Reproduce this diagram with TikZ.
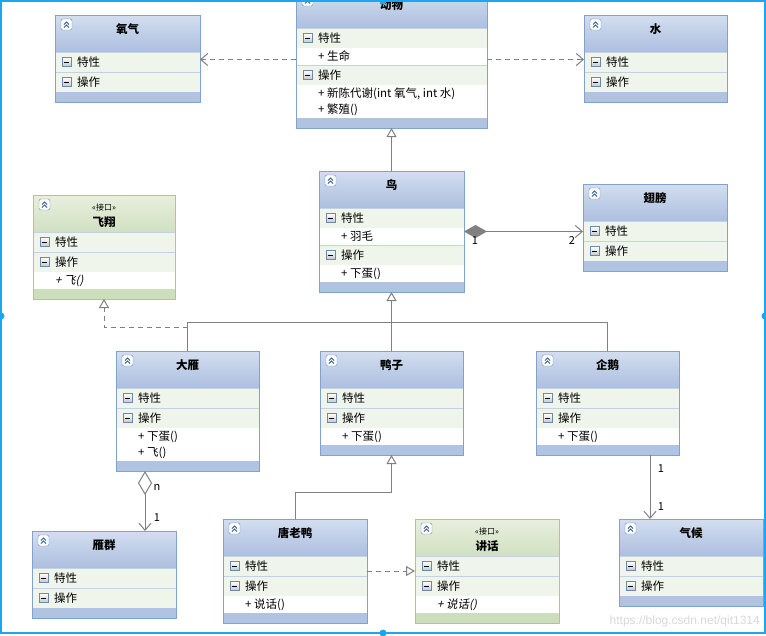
\documentclass[tikz,border=0pt]{standalone}
\usepackage{fontspec}
\setmainfont{Noto Sans CJK SC}[ItalicFont={Noto Sans CJK SC},ItalicFeatures={FakeSlant=0.2}]
\newfontfamily\wmfont{Liberation Sans}
\usetikzlibrary{arrows.meta}
\usetikzlibrary{calc}

\definecolor{headtop}{HTML}{D3DEF0}
\definecolor{headbot}{HTML}{ACBFDF}
\definecolor{compbg}{HTML}{F0F5EC}
\definecolor{bandbg}{HTML}{B0C3E0}
\definecolor{edge}{HTML}{7FA2CE}
\definecolor{sepline}{HTML}{C4D2E8}
\definecolor{ifacetop}{HTML}{E8EFDE}
\definecolor{ifacebot}{HTML}{D0E0C0}
\definecolor{ifaceedge}{HTML}{BDBCA0}
\definecolor{ifaceband}{HTML}{CCDFBD}
\definecolor{iconedge}{HTML}{6A88B2}
\definecolor{iconblue}{HTML}{2F5C9A}
\definecolor{linegray}{HTML}{808080}
\definecolor{framecol}{HTML}{1AA6F0}

\tikzset{
  ttl/.style={font=\fontsize{11.5}{12}\selectfont\bfseries, inner sep=0pt},
  hdr/.style={font=\fontsize{11.5}{12}\selectfont, anchor=west, inner sep=0pt},
  mem/.style={font=\fontsize{11.5}{12}\selectfont\memfont, anchor=west, inner sep=0pt},
  stereo/.style={font=\fontsize{8}{9}\selectfont, inner sep=0pt},
  mult/.style={font=\fontsize{11}{12}\selectfont, inner sep=0pt},
  conn/.style={draw=linegray, line width=1pt},
  dep/.style={conn, dash pattern=on 5pt off 4pt, -{Straight Barb[length=7pt,width=12pt]}},
  gen/.style={conn, -{Triangle[open,length=9pt,width=10pt,fill=white]}},
  real/.style={conn, dash pattern=on 5pt off 4pt, -{Triangle[open,length=9pt,width=10pt,fill=white]}},
  compo/.style={conn, {Diamond[length=23pt,width=13pt]}-{Straight Barb[length=7pt,width=12pt]}},
  aggr/.style={conn, {Diamond[open,length=24pt,width=14pt,fill=white]}-{Straight Barb[length=7pt,width=12pt]}},
  assoc/.style={conn, -{Straight Barb[length=7pt,width=12pt]}},
  frame/.style={draw=framecol, line width=2pt}
}

\let\memfont\relax
\def\titleoff{14}
\def\stereotxt{}

\newcommand{\chevicon}[2]{%
  \draw[draw=iconedge, fill=white, rounded corners=1.5pt] (#1,#2) rectangle ++(11,11);
  \draw[draw=iconblue, line width=0.8pt] (#1+3,#2+5.5) -- (#1+5.5,#2+3) -- (#1+8,#2+5.5)
    (#1+3,#2+8.5) -- (#1+5.5,#2+6) -- (#1+8,#2+8.5);
}
\newcommand{\minusicon}[2]{%
  \shadedraw[top color=white, bottom color=gray!45, draw=iconedge] (#1,#2) rectangle ++(9,9);
  \draw[line width=1pt] (#1+2,#2+4.5) -- (#1+7,#2+4.5);
}

% #1 width, #2 name, #3 left, #4 top, #5 title, #6/#7 attributes, #8/#9 operations
\newcommand{\umlclass}[9][143]{%
  \pgfmathsetmacro\xl{#3}
  \pgfmathsetmacro\xr{#3+#1}
  \pgfmathsetmacro\ya{#4+37}
  \pgfmathsetmacro\yb{\ya+20}
  \pgfmathsetmacro\yc{\yb+(#6>0)*(16*#6+1)}
  \pgfmathsetmacro\yd{\yc+20}
  \pgfmathsetmacro\ye{\yd+(#8>0)*(16*#8+1)}
  \pgfmathsetmacro\yf{\ye+10}
  \pgfmathsetmacro\hh{\yf-#4}
  \shade[top color=headtop, bottom color=headbot] (\xl,#4) rectangle (\xr,\ya);
  \fill[compbg] (\xl,\ya) rectangle (\xr,\yb);
  \fill[white] (\xl,\yb) rectangle (\xr,\yc);
  \fill[compbg] (\xl,\yc) rectangle (\xr,\yd);
  \fill[white] (\xl,\yd) rectangle (\xr,\ye);
  \fill[bandbg] (\xl,\ye) rectangle (\xr,\yf);
  \draw[sepline] (\xl,\ya) -- (\xr,\ya) (\xl,\yc) -- (\xr,\yc);
  \chevicon{\xl+6}{#4+4}
  \minusicon{\xl+7}{\ya+5.5}
  \minusicon{\xl+7}{\yc+5.5}
  \node[ttl] (#2-title) at ({\xl+#1/2},{#4+\titleoff}) {#5};
  \ifx\stereotxt\empty\else
    \node[stereo] (#2-stereo) at ({\xl+#1/2},{#4+12}) {\stereotxt};
  \fi
  \node[hdr] (#2-attr) at ({\xl+22},{(\ya+\yb)/2}) {特性};
  \node[hdr] (#2-ops) at ({\xl+22},{(\yc+\yd)/2}) {操作};
  \ifnum#6>0\relax
    \foreach \m [count=\i] in {#7}
      \node[mem] (#2-a\i) at ({\xl+22},{\yb-7.5+16*\i}) {\m};
  \fi
  \ifnum#8>0\relax
    \foreach \m [count=\i] in {#9}
      \node[mem] (#2-o\i) at ({\xl+22},{\yd-7.5+16*\i}) {\m};
  \fi
  \node[draw=edge, line width=1pt, inner sep=0pt, outer sep=0pt,
    minimum width=#1pt, minimum height=\hh pt] (#2) at ({\xl+#1/2},{(#4+\yf)/2}) {};
}

\begin{document}
\begin{tikzpicture}[x=1pt,y=-1pt]
\useasboundingbox (0,0) rectangle (766,635);
\clip (0,0) rectangle (766,635);
\fill[white] (0,0) rectangle (766,635);

% classes
\umlclass[145]{yangqi}{55}{15}{氧气}{0}{}{0}{}
\umlclass[191]{dongwu}{296}{-9}{动物}{1}{+ 生命}{2}{{+ 新陈代谢(int 氧气, int 水)},{+ 繁殖()}}
\umlclass{shui}{584}{15}{水}{0}{}{0}{}
\umlclass[145]{niao}{319}{171}{鸟}{1}{+ 羽毛}{1}{+ 下蛋()}
\umlclass[144]{chibang}{583}{184}{翅膀}{0}{}{0}{}
\umlclass{dayan}{116}{351}{大雁}{0}{}{2}{+ 下蛋(),+ 飞()}
\umlclass{yazi}{320}{351}{鸭子}{0}{}{1}{+ 下蛋()}
\umlclass{qie}{536}{351}{企鹅}{0}{}{1}{+ 下蛋()}
\umlclass[144]{yanqun}{32}{531}{雁群}{0}{}{0}{}
\umlclass[144]{tanglaoya}{223}{519}{唐老鸭}{0}{}{1}{+ 说话()}
\umlclass[144]{qihou}{619}{519}{气候}{0}{}{0}{}

% interfaces
{
  \colorlet{headtop}{ifacetop}\colorlet{headbot}{ifacebot}
  \colorlet{edge}{ifaceedge}\colorlet{bandbg}{ifaceband}
  \def\titleoff{27}\def\stereotxt{«接口»}\def\memfont{\itshape}
  \umlclass[142]{feixiang}{33}{195}{飞翔}{0}{}{1}{+ 飞()}
  \umlclass[144]{jianghua}{415}{519}{讲话}{0}{}{1}{+ 说话()}
}

% connectors
\coordinate (bus) at (0,322);
\coordinate (rbus) at (0,327);
\coordinate (dbus) at (0,492);
\coordinate (aggtop) at ($(dayan.south west)+(29,0)$);
\coordinate (qiebot) at ($(qie.south west)+(114,0)$);

\draw[dep] (dongwu.west) -- (yangqi.east |- dongwu.west);
\draw[dep] (dongwu.east) -- (shui.west |- dongwu.east);
\draw[gen] (niao.north) -- (dongwu.south);
\draw[compo] (niao.east) -- (chibang.west |- niao.east);
\draw[conn] (dayan.north) -- (dayan.north |- bus) -- (qie.north |- bus) -- (qie.north);
\draw[gen] (yazi.north) -- (niao.south);
\draw[real] (dayan.north |- rbus) -| (feixiang.south);
\draw[aggr] (aggtop) -- (aggtop |- yanqun.north);
\draw[gen] (tanglaoya.north) -- (tanglaoya.north |- dbus) -| (yazi.south);
\draw[real] (tanglaoya.east) -- (jianghua.west |- tanglaoya.east);
\draw[assoc] (qiebot) -- (qiebot |- qihou.north);

% multiplicities
\node[mult] (m1) at (475,241) {1};
\node[mult] (m2) at (572,241) {2};
\node[mult] (m3) at (157,487) {n};
\node[mult] (m4) at (157,518) {1};
\node[mult] (m5) at (661,469) {1};
\node[mult] (m6) at (661,507) {1};

% watermark and selection frame
\node[font=\wmfont\fontsize{12}{13}\selectfont, text=gray!30, anchor=east, inner sep=0pt] (wm) at (760,621) {https://blog.csdn.net/qit1314};
\draw[frame] (1,1) rectangle (765,633);
\foreach \p in {(383,1),(1,316),(765,316),(383,633)}
  \fill[framecol] \p circle (3.5);
\end{tikzpicture}
\end{document}
